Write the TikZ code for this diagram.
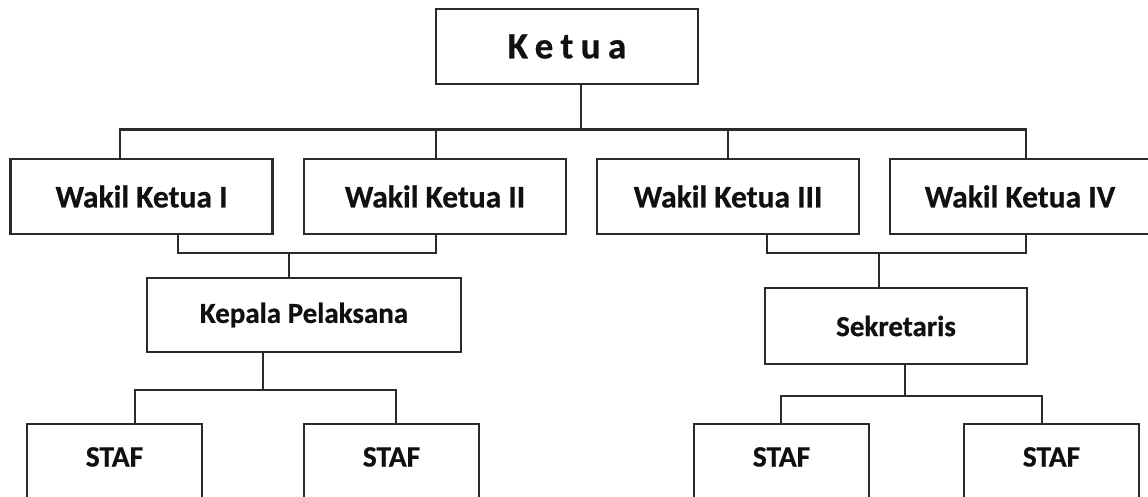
\documentclass[tikz,border=0pt]{standalone}
\usepackage{fontspec}
\setmainfont{Carlito}[BoldFeatures={FakeBold=0.6}]
\newfontfamily\ketuafont[LetterSpace=20,BoldFeatures={FakeBold=0.6}]{Carlito}
\definecolor{linec}{HTML}{2A2A2A}
\definecolor{textc}{HTML}{101010}
\begin{document}
\begin{tikzpicture}[x=1pt,y=-1pt,
  box/.style={draw=linec,line width=2.2pt,fill=white,inner sep=0pt,text=textc,font=\bfseries\fontsize{29}{33}\selectfont},
  wkbox/.style={box,minimum width=262pt,minimum height=75pt,font=\bfseries\fontsize{31.5}{35}\selectfont},
  stafbox/.style={box,minimum width=175pt,minimum height=76pt,text height=19pt,text depth=10pt,font=\bfseries\fontsize{29.5}{33}\selectfont},
  conn/.style={draw=linec,line width=2.2pt}]
\useasboundingbox (0,0) rectangle (1148,497);
\clip (0,0) rectangle (1148,497);
\fill[white] (0,0) rectangle (1148,497);
% nodes
\node[box,minimum width=262pt,minimum height=75pt,font=\ketuafont\bfseries\fontsize{37}{40}\selectfont] (ketua) at (567,46.5) {Ketua};
\node[wkbox] (wk1) at (141.5,196.5) {Wakil Ketua I};
\node[wkbox] (wk2) at (435,196.5) {Wakil Ketua II};
\node[wkbox] (wk3) at (728,196.5) {Wakil Ketua III};
\node[wkbox] (wk4) at (1021,196.5) {};
\node[textc,font=\bfseries\fontsize{31.5}{35}\selectfont] (wk4t) at (1020,196.5) {Wakil Ketua IV};
\node[box,minimum width=314pt,minimum height=74pt] (kepala) at (304,315) {Kepala Pelaksana};
\node[box,minimum width=262pt,minimum height=76pt] (sekr) at (896,326) {Sekretaris};
\node[stafbox] (s1) at (114.5,462) {STAF};
\node[stafbox] (s2) at (391.5,462) {STAF};
\node[stafbox] (s3) at (781.5,462) {STAF};
\node[stafbox] (s4) at (1051.5,462) {STAF};
% coordinates
\coordinate (busL) at (120,129.5);
\coordinate (busR) at (1026,129.5);
\coordinate (kd) at (581,129.5);
\coordinate (j1) at (178,253);
\coordinate (j2) at (436,253);
\coordinate (k1) at (289,253);
\coordinate (j3) at (767,253);
\coordinate (j4) at (1026,253);
\coordinate (k2) at (879,253);
\coordinate (kp) at (263,390);
\coordinate (sa) at (135,390);
\coordinate (sb) at (396,390);
\coordinate (sp) at (905,396);
\coordinate (sc) at (781,396);
\coordinate (sd) at (1042,396);
% connectors
\draw[conn] (ketua.south -| kd) -- (kd);
\draw[conn] (wk1.north -| busL) -- (busL) -- (busR) -- (wk4.north -| busR);
\draw[conn] (wk2.north -| j2) -- (busL -| j2);
\draw[conn] (wk3.north) -- (wk3.north |- busL);
\draw[conn] (wk1.south -| j1) -- (j1) -- (j2) -- (wk2.south -| j2);
\draw[conn] (k1) -- (kepala.north -| k1);
\draw[conn] (wk3.south -| j3) -- (j3) -- (j4) -- (wk4.south -| j4);
\draw[conn] (k2) -- (sekr.north -| k2);
\draw[conn] (kepala.south -| kp) -- (kp);
\draw[conn] (s1.north -| sa) -- (sa) -- (sb) -- (s2.north -| sb);
\draw[conn] (sekr.south -| sp) -- (sp);
\draw[conn] (s3.north -| sc) -- (sc) -- (sd) -- (s4.north -| sd);
\end{tikzpicture}
\end{document}
